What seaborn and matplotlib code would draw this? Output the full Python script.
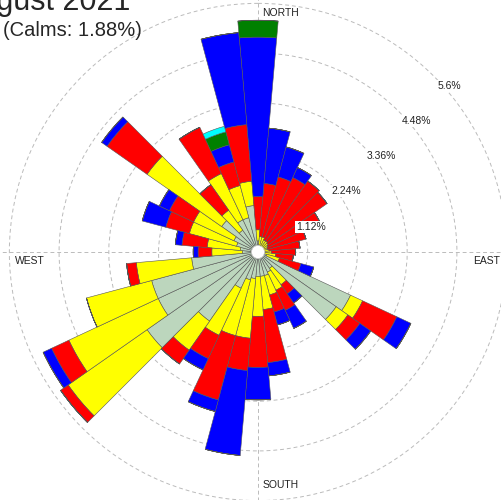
import numpy as np
import seaborn as sns
import matplotlib.pyplot as plt
from matplotlib.patches import Circle

# wind directions (deg, clockwise from north) and frequency (%) per speed bin
directions = np.arange(0, 360, 10)

bin_grey = [0.25, 0.15, 0.15, 0.12, 0.12, 0.10, 0.10, 0.10, 0.10, 0.12, 0.15, 0.20,
            2.30, 2.15, 0.45, 0.50, 0.55, 0.55, 0.55, 0.60, 0.65, 0.90, 1.90, 3.05,
            2.48, 2.48, 1.50, 0.35, 0.40, 0.50, 0.60, 1.00, 0.60, 0.80, 0.80, 1.05]
bin_yellow = [0.25, 0.20, 0.20, 0.18, 0.18, 0.18, 0.15, 0.12, 0.15, 0.18, 0.25, 0.30,
              0.30, 0.32, 0.45, 0.45, 0.45, 0.75, 0.90, 1.35, 1.30, 1.17, 0.80, 2.17,
              2.22, 1.52, 1.25, 0.69, 0.75, 1.10, 1.00, 2.05, 0.55, 1.15, 0.75, 0.55]
bin_red = [0.75, 1.20, 1.40, 1.55, 1.65, 1.62, 1.30, 0.90, 0.70, 0.55, 0.40, 0.50,
           0.85, 0.33, 0.25, 0.50, 0.40, 1.20, 1.15, 0.73, 1.50, 0.58, 0.38, 0.21,
           0.43, 0.00, 0.22, 0.31, 0.57, 0.55, 0.60, 1.10, 0.70, 1.15, 0.55, 1.28]
bin_blue = [3.59, 1.25, 0.70, 0.25, 0.00, 0.00, 0.00, 0.00, 0.00, 0.00, 0.00, 0.30,
            0.35, 0.30, 0.25, 0.45, 0.30, 0.30, 0.73, 1.92, 0.27, 0.28, 0.00, 0.00,
            0.21, 0.00, 0.00, 0.11, 0.15, 0.55, 0.25, 0.15, 0.00, 0.00, 0.40, 2.08]
bin_green = [0.38, 0, 0, 0, 0, 0, 0, 0, 0, 0, 0, 0,
             0, 0, 0, 0, 0, 0, 0, 0, 0, 0, 0, 0,
             0, 0, 0, 0, 0, 0, 0, 0, 0, 0, 0.30, 0]
bin_cyan = [0, 0, 0, 0, 0, 0, 0, 0, 0, 0, 0, 0,
            0, 0, 0, 0, 0, 0, 0, 0, 0, 0, 0, 0,
            0, 0, 0, 0, 0, 0, 0, 0, 0, 0, 0.13, 0]

ring_values = [1.12, 2.24, 3.36, 4.48, 5.6]
ring_labels = ['1.12%', '2.24%', '3.36%', '4.48%', '5.6%']
title = 'August 2021'
calms = '(Calms: 1.88%)'

sns.set_style('white')
plt.rcParams['font.family'] = ['Liberation Sans', 'DejaVu Sans']

bins = [bin_grey, bin_yellow, bin_red, bin_blue, bin_green, bin_cyan]
palette = sns.color_palette(['#bcd6bd', '#ffff00', '#ff0000', '#0000ff', '#008000', '#00ffff'])

fig = plt.figure(figsize=(5.01, 5.0), dpi=100)
rmax = 6.0
rpx = rmax * 44.4
ax = fig.add_axes([(258 - rpx) / 501, (248 - rpx) / 500, 2 * rpx / 501, 2 * rpx / 500],
                  projection='polar')
ax.set_theta_zero_location('N')
ax.set_theta_direction(-1)

theta = np.deg2rad(directions)
bottom = np.zeros(len(directions))
for vals, col in zip(bins, palette):
    vals = np.array(vals)
    ax.bar(theta, vals, width=np.deg2rad(10), bottom=bottom, color=col,
           edgecolor='#555555', linewidth=0.4, zorder=2)
    bottom = bottom + vals

ax.set_ylim(0, rmax)
ax.set_rgrids(ring_values, labels=[''] * len(ring_values))
ax.set_thetagrids([0, 90, 180, 270], labels=[''] * 4)
ax.grid(True, color='#bbbbbb', linestyle=(0, (4, 3)), linewidth=0.7)
ax.set_axisbelow(True)
ax.spines['polar'].set_visible(False)
ax.add_artist(Circle((0.5, 0.5), 6.5 / (2 * rpx), transform=ax.transAxes,
                     facecolor='white', edgecolor='#cccccc', linewidth=0.5, zorder=5))

# ring labels sit just below the rings along the NE diagonal
for v, lab in zip(ring_values, ring_labels):
    ax.annotate(lab, (np.deg2rad(45), v), xytext=(2.4, -7), textcoords='offset points',
                ha='left', va='center', fontsize=7.5, color='#222222', zorder=6,
                bbox=dict(boxstyle='square,pad=0.1', fc='white', ec='none'))

ax.annotate('NORTH', (0, 5.38), xytext=(3, 0), textcoords='offset points',
            ha='left', va='center', fontsize=7.5, color='#222222')
ax.annotate('SOUTH', (np.pi, 5.25), xytext=(3, 0), textcoords='offset points',
            ha='left', va='center', fontsize=7.5, color='#222222')
ax.annotate('WEST', (1.5 * np.pi, 5.47), xytext=(0, -3), textcoords='offset points',
            ha='left', va='top', fontsize=7.5, color='#222222')
ax.annotate('EAST', (0.5 * np.pi, 4.84), xytext=(0, -3), textcoords='offset points',
            ha='left', va='top', fontsize=7.5, color='#222222')

fig.text(-41 / 501, 1 - 10 / 500, title, fontsize=22, ha='left', va='baseline')
fig.text(3 / 501, 1 - 30 / 500, calms, fontsize=14.5, ha='left', va='center')

fig.savefig('out.png', dpi=100)
